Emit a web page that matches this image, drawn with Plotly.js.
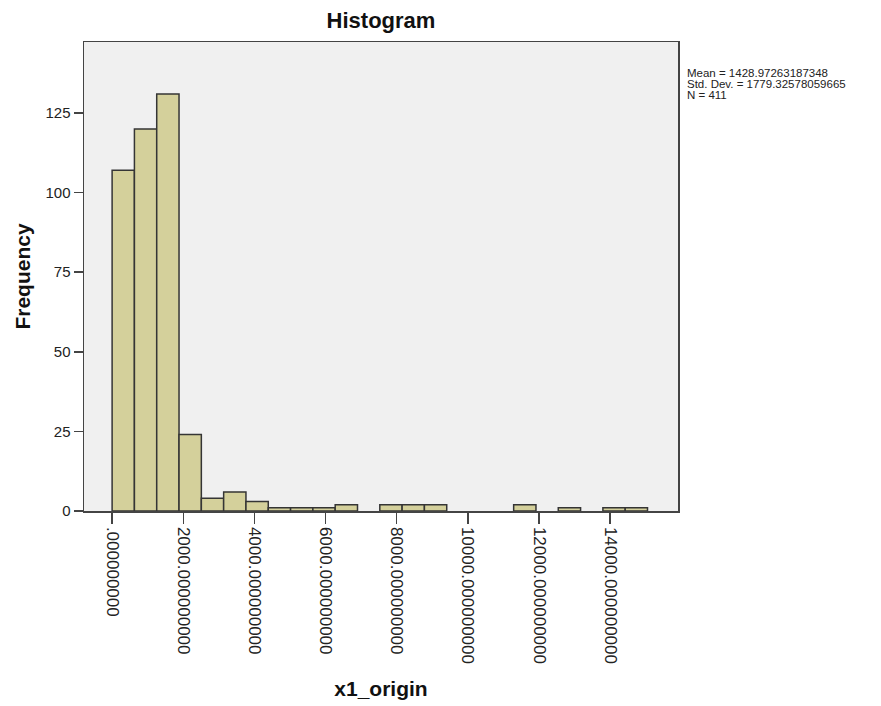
<!DOCTYPE html>
<html>
<head>
<meta charset="utf-8">
<script src="https://cdn.plot.ly/plotly-3.0.1.min.js"></script>
<style>html,body{margin:0;padding:0;background:#fff;}#chart{width:881px;height:706px;}</style>
</head>
<body>
<div id="chart"></div>
<script>
// Histogram of x1_origin (SPSS output), counts per bin
var binStart = 0;
var binWidth = 627;
var binCounts = [107, 120, 131, 24, 4, 6, 3, 1, 1, 1, 2, 0, 2, 2, 2, 0, 0, 0, 2, 0, 1, 0, 1, 1];
var tickValues = [0, 2000, 4000, 6000, 8000, 10000, 12000, 14000];
var tickLabels = ['.000000000', '2000.000000000', '4000.000000000', '6000.000000000',
                  '8000.000000000', '10000.000000000', '12000.000000000', '14000.000000000'];
var yTickValues = [0, 25, 50, 75, 100, 125];
var statLines = ['Mean = 1428.97263187348', 'Std. Dev. = 1779.32578059665', 'N = 411'];

var xs = [], ys = [];
binCounts.forEach(function (c, k) {
  if (c > 0) { xs.push(binStart + binWidth * (k + 0.5)); ys.push(c); }
});

var FONT = 'Liberation Sans, Arial, sans-serif';
var trace = {
  type: 'bar', x: xs, y: ys, width: binWidth,
  marker: { color: '#d4d09b', line: { color: '#353535', width: 1.5 } },
  hoverinfo: 'x+y'
};

var statY = [0.934, 0.910, 0.886];
var annotations = statLines.map(function (t, i) {
  return { text: t, xref: 'paper', yref: 'paper', x: 1.0135, y: statY[i],
           xanchor: 'left', yanchor: 'middle', showarrow: false, borderpad: 0,
           font: { family: FONT, size: 11.5, color: '#222' } };
});

var layout = {
  width: 881, height: 706,
  margin: { l: 84, r: 203, t: 42, b: 195 },
  paper_bgcolor: '#ffffff', plot_bgcolor: '#f0f0f0',
  showlegend: false, bargap: 0,
  title: { text: '<b>Histogram</b>', x: 0.5, xref: 'paper', xanchor: 'center',
           y: 0.971, yanchor: 'middle',
           font: { family: FONT, size: 22, color: '#111' } },
  xaxis: {
    range: [-790, 15905], tickvals: tickValues, ticktext: tickLabels, tickangle: 90,
    ticks: 'outside', ticklen: 11, tickwidth: 1.5, tickcolor: '#444',
    showgrid: false, zeroline: false, showline: true, linecolor: '#444', linewidth: 1.5, mirror: true,
    tickfont: { family: FONT, size: 17, color: '#222' },
    title: { text: '<b>x1_origin</b>', standoff: 18, font: { family: FONT, size: 21, color: '#111' } }
  },
  yaxis: {
    range: [0, 147.3], tickvals: yTickValues,
    ticks: 'outside', ticklen: 9, tickwidth: 1.5, tickcolor: '#444',
    showgrid: false, zeroline: false, showline: true, linecolor: '#444', linewidth: 1.5, mirror: true,
    tickfont: { family: FONT, size: 15, color: '#222' },
    title: { text: '<b>Frequency</b>', standoff: 9, font: { family: FONT, size: 21, color: '#111' } }
  },
  annotations: annotations
};

Plotly.newPlot('chart', [trace], layout, { displayModeBar: false, staticPlot: true });
</script>
</body>
</html>
